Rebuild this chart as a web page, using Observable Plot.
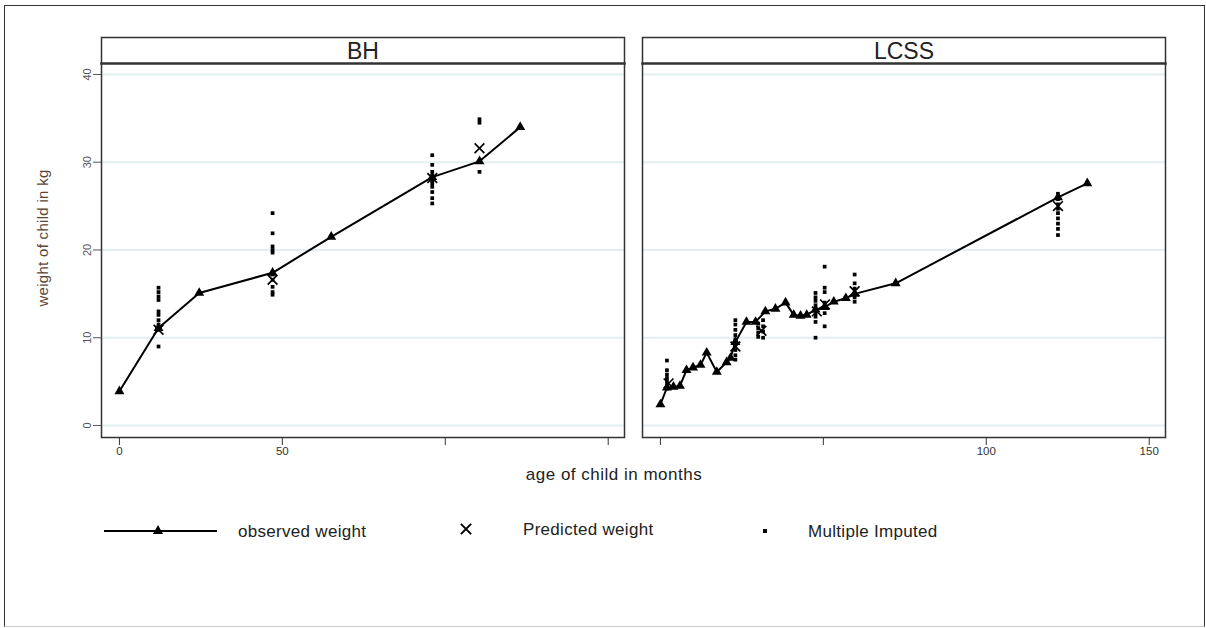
<!DOCTYPE html>
<html>
<head>
<meta charset="utf-8">
<script src="https://cdn.jsdelivr.net/npm/d3@7"></script>
<script src="https://cdn.jsdelivr.net/npm/@observablehq/plot@0.6"></script>
<style>
  html, body { margin: 0; padding: 0; background: #fff; }
  #wrap { position: relative; width: 1206px; height: 628px; overflow: hidden; font-family: "Liberation Sans", Arial, sans-serif; }
  #border { position: absolute; left: 4px; top: 5px; width: 1201px; height: 622px; box-sizing: border-box;
            border: 1px solid #333; border-bottom-color: #ccc; pointer-events: none; }
  #chart { position: absolute; left: 0; top: 0; }
  #ytitle { position: absolute; left: 42px; top: 238px; transform: translate(-50%, -50%) rotate(-90deg);
            white-space: nowrap; font-size: 15px; letter-spacing: 0.3px; color: #5b4636; }
  #xtitle { position: absolute; left: 614px; top: 475px; transform: translate(-50%, -50%);
            white-space: nowrap; font-size: 17px; letter-spacing: 0.5px; color: #222; }
  #legend { position: absolute; left: 0; top: 510px; }
</style>
</head>
<body>
<div id="wrap">
  <div id="chart"></div>
  <div id="ytitle">weight of child in kg</div>
  <div id="xtitle">age of child in months</div>
  <svg id="legend" width="1206" height="44"></svg>
  <div id="border"></div>
</div>
<script>
// ---------- data ----------
const panels = ["BH", "LCSS"];
const yTicks = [0, 10, 20, 30, 40];
const xTicks = [0, 50, 100, 150];
// tick labels shown per panel
const xLabelPanels = ["BH", "BH", "LCSS", "LCSS"];
const xLabelValues = [0, 50, 100, 150];

// BH observed
const bhObsAge = [0, 12, 24.5, 47, 65, 96, 110.5, 123];
const bhObsWt  = [3.9, 11.1, 15.1, 17.4, 21.5, 28.3, 30.1, 34.0];
// BH predicted
const bhPredAge = [12, 47, 96, 110.5];
const bhPredWt  = [10.9, 16.6, 28.2, 31.6];
// BH multiple imputed
const bhImpAge = [12, 47, 96, 110.5];
const bhImpWt = [
  [15.7, 15.2, 14.7, 14.3, 13.0, 12.6, 12.0, 11.5, 10.9, 9.0],
  [24.2, 21.9, 20.4, 20.0, 19.7, 17.5, 17.2, 16.6, 15.8, 15.2, 14.9],
  [30.8, 29.7, 28.9, 28.4, 27.9, 27.6, 27.2, 26.6, 25.9, 25.3],
  [34.9, 34.5, 28.9]
];

// LCSS observed
const lcObsAge = [0, 2, 4, 6, 8, 10, 12.3, 14.2, 17.3, 20.3, 21.5, 23, 26.4, 29.2, 32.2, 35.3, 38.4, 40.9, 43, 44.9, 47.6, 50.4, 53.2, 56.9, 59.6, 72.2, 122, 131];
const lcObsWt  = [2.4, 4.3, 4.4, 4.5, 6.3, 6.6, 6.9, 8.3, 6.1, 7.2, 7.7, 9.5, 11.8, 11.8, 13.0, 13.3, 14.0, 12.6, 12.5, 12.6, 13.2, 13.5, 14.1, 14.5, 15.0, 16.2, 26.0, 27.6];
// LCSS predicted
const lcPredAge = [2.5, 23, 31, 48, 50.5, 59.6, 122];
const lcPredWt  = [4.8, 9.0, 10.8, 13.0, 13.8, 15.3, 25.0];
// LCSS multiple imputed
const lcImpAge = [2, 23, 30, 31.5, 47.6, 50.4, 59.6, 122];
const lcImpWt = [
  [7.4, 6.3, 5.8, 5.4, 5.0, 4.6, 4.2],
  [12.0, 11.5, 10.9, 10.3, 9.8, 9.2, 8.6, 8.0, 7.5],
  [11.6, 11.1, 10.6, 10.1],
  [12.0, 11.3, 10.7, 10.0],
  [15.1, 14.6, 14.2, 13.7, 13.2, 12.8, 12.4, 11.8, 10.0],
  [18.1, 15.7, 15.2, 14.0, 13.4, 12.8, 11.3],
  [17.2, 16.2, 15.6, 15.0, 14.6, 14.1],
  [26.4, 25.8, 25.2, 24.7, 24.2, 23.6, 23.0, 22.4, 21.7]
];

// ---------- tables ----------
const pairs = (panel, ages, wts) => ages.map((a, i) => ({panel, age: a, wt: wts[i]}));
const cols = (panel, ages, lists) => ages.flatMap((a, i) => lists[i].map(w => ({panel, age: a, wt: w})));
const obs  = [...pairs("BH", bhObsAge, bhObsWt), ...pairs("LCSS", lcObsAge, lcObsWt)];
const pred = [...pairs("BH", bhPredAge, bhPredWt), ...pairs("LCSS", lcPredAge, lcPredWt)];
const imp  = [...cols("BH", bhImpAge, bhImpWt), ...cols("LCSS", lcImpAge, lcImpWt)];
const xLabels = xLabelValues.map((v, i) => ({panel: xLabelPanels[i], v}));

const plot = Plot.plot({
  width: 1206,
  height: 490,
  marginTop: 63,
  marginBottom: 53,
  marginLeft: 100,
  marginRight: 40,
  style: {fontFamily: "'Liberation Sans', Arial, sans-serif", background: "transparent", color: "#222"},
  fx: {domain: panels, paddingInner: 0.0332, paddingOuter: 0, label: null},
  x: {domain: [-5.5, 155]},
  y: {domain: [-1.37, 41.25]},
  marks: [
    Plot.gridY(yTicks, {stroke: "#e3eef0", strokeOpacity: 1, strokeWidth: 2}),
    Plot.frame({stroke: "#333", strokeWidth: 1.5, insetTop: -26}),
    Plot.frame({anchor: "top", stroke: "#333", strokeWidth: 2.5}),
    Plot.axisFx({anchor: "top", tickSize: 0, tickPadding: 5, fontSize: 23, label: null}),
    Plot.axisY(yTicks, {anchor: "left", tickSize: 8, tickPadding: 3, tickRotate: -90, fontSize: 11, label: null, color: "#555"}),
    Plot.axisX(xTicks, {anchor: "bottom", tickSize: 8, tickFormat: () => "", label: null, color: "#333"}),
    Plot.text(xLabels, {fx: "panel", x: "v", text: d => String(d.v), frameAnchor: "bottom", dy: 17, fontSize: 11.5, fill: "#333"}),
    Plot.line(obs, {fx: "panel", x: "age", y: "wt", z: "panel", stroke: "black", strokeWidth: 2}),
    Plot.dot(imp, {fx: "panel", x: "age", y: "wt", symbol: "square", r: 2.1, fill: "black"}),
    Plot.dot(pred, {fx: "panel", x: "age", y: "wt", symbol: "times", r: 4.5, stroke: "black", strokeWidth: 1.7}),
    Plot.dot(obs, {fx: "panel", x: "age", y: "wt", symbol: "triangle", r: 3.7, fill: "black"})
  ]
});
document.getElementById("chart").appendChild(plot);

// ---------- legend ----------
const lg = d3.select("#legend");
const cy = 21;
const fs = 17;
lg.append("line").attr("x1", 104).attr("x2", 217).attr("y1", cy).attr("y2", cy).attr("stroke", "black").attr("stroke-width", 2);
lg.append("path").attr("transform", `translate(158,${cy})`).attr("d", d3.symbol(d3.symbolTriangle, 45)()).attr("fill", "black");
lg.append("text").attr("x", 238).attr("y", cy).attr("dy", "0.35em").attr("font-size", fs).attr("letter-spacing", 0.3).attr("fill", "#222").text("observed weight");
lg.append("path").attr("transform", `translate(466,${cy - 2})`).attr("d", d3.symbol(d3.symbolTimes, 70)()).attr("stroke", "black").attr("stroke-width", 2).attr("fill", "none");
lg.append("text").attr("x", 523).attr("y", cy - 2).attr("dy", "0.35em").attr("font-size", fs).attr("letter-spacing", 0.3).attr("fill", "#222").text("Predicted weight");
lg.append("path").attr("transform", `translate(765,${cy})`).attr("d", d3.symbol(d3.symbolSquare, 16)()).attr("fill", "black");
lg.append("text").attr("x", 808).attr("y", cy).attr("dy", "0.35em").attr("font-size", fs).attr("letter-spacing", 0.3).attr("fill", "#222").text("Multiple Imputed");
</script>
</body>
</html>
